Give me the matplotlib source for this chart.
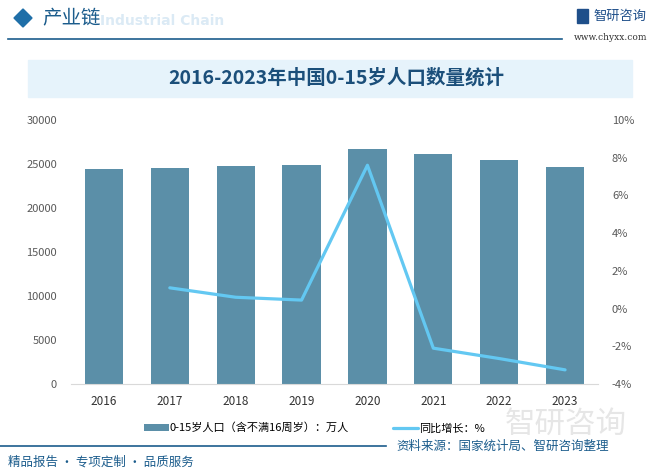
import matplotlib
matplotlib.use("Agg")
import matplotlib.pyplot as plt
from matplotlib.patches import Rectangle, Polygon
from matplotlib.lines import Line2D

plt.rcParams['font.family'] = ['Noto Sans CJK SC', 'DejaVu Sans']

years = ['2016', '2017', '2018', '2019', '2020', '2021', '2022', '2023']
population = [24380, 24600, 24720, 24830, 26740, 26170, 25480, 24670]  # 万人
growth_years = ['2017', '2018', '2019', '2020', '2021', '2022', '2023']
growth = [1.1, 0.6, 0.45, 7.6, -2.1, -2.65, -3.25]  # %

bar_color = '#5b8fa8'
line_color = '#63c8f2'
dark_blue = '#1b5c8c'

fig = plt.figure(figsize=(6.72, 4.76), dpi=100)

# header
fig.patches.append(Polygon([[14/672, 1-18/476], [23/672, 1-9/476], [32/672, 1-18/476], [23/672, 1-27/476]],
                           closed=True, transform=fig.transFigure, color='#1f6fa8'))
fig.text(100/672, 1-21/476, 'Industrial Chain', fontsize=10, color='#dbeaf5', weight='bold',
         va='center', ha='left', family='DejaVu Sans', zorder=0)
fig.text(42/672, 1-19/476, '产业链', fontsize=14, color=dark_blue, va='center', ha='left')
fig.lines.append(Line2D([8/672, 562/672], [1-39/476, 1-39/476], transform=fig.transFigure,
                        color=dark_blue, lw=1.2))
fig.patches.append(Rectangle((577/672, 1-23/476), 11/672, 14/476, transform=fig.transFigure,
                             color='#1f4f8a'))
fig.text(593/672, 1-16/476, '智研咨询', fontsize=9.5, color='#1f4f8a', va='center', ha='left')
fig.text(574/672, 1-38/476, 'www.chyxx.com', fontsize=6.5, color='#333333', va='center', ha='left',
         family='DejaVu Serif')

# title box
fig.patches.append(Rectangle((28/672, 1-97/476), 604/672, 37/476, transform=fig.transFigure,
                             color='#e6f3fb', zorder=0))
fig.text(0.5, 1-78/476, '2016-2023年中国0-15岁人口数量统计', fontsize=14, weight='bold',
         color='#1b4f7a', ha='center', va='center')

# faint watermark bottom right
fig.text(505/672, 1-424/476, '智研咨询', fontsize=22, color='#e6e6e6', ha='left', va='center',
         zorder=0)

ax = fig.add_axes([71/672, 1-384/476, 527/672, 264/476])
x = list(range(len(years)))
ax.bar(x, population, width=0.58, color=bar_color, zorder=2,
       label='0-15岁人口（含不满16周岁）：万人')
ax.set_ylim(0, 30000)
ax.set_yticks(range(0, 30001, 5000))
ax.set_xlim(-0.5, len(years) - 0.5)
ax.set_xticks(x)
ax.set_xticklabels(years)
ax.tick_params(axis='y', length=0, labelsize=8, colors='#595959', pad=10)
ax.tick_params(axis='x', length=0, labelsize=8.5, colors='#333333', pad=8)
for s in ['top', 'right', 'left']:
    ax.spines[s].set_visible(False)
ax.spines['bottom'].set_color('#d9d9d9')

ax2 = ax.twinx()
gx = [years.index(y) for y in growth_years]
ax2.plot(gx, growth, color=line_color, lw=2.3, zorder=3, solid_capstyle='round',
         label='同比增长：%')
ax2.set_ylim(-4, 10)
ax2.set_yticks(range(-4, 11, 2))
ax2.set_yticklabels([f'{v}%' for v in range(-4, 11, 2)])
ax2.tick_params(axis='y', length=0, labelsize=8, colors='#595959', pad=10)
for s in ['top', 'right', 'left', 'bottom']:
    ax2.spines[s].set_visible(False)

h1, l1 = ax.get_legend_handles_labels()
h2, l2 = ax2.get_legend_handles_labels()
fig.legend(h1 + h2, l1 + l2, loc='center', bbox_to_anchor=(0.468, 1-428/476), ncol=2,
           frameon=False, fontsize=8, handlelength=2.2, handleheight=0.5, columnspacing=4,
           handletextpad=0.1)

# footer
fig.lines.append(Line2D([0, 386/672], [1-446/476, 1-446/476], transform=fig.transFigure,
                        color=dark_blue, lw=1.2))
fig.text(396/672, 1-446/476, '资料来源：国家统计局、智研咨询整理', fontsize=9, color=dark_blue,
         ha='left', va='center')
fig.text(8/672, 1-462/476, '精品报告 · 专项定制 · 品质服务', fontsize=9, color=dark_blue,
         ha='left', va='center')

fig.savefig('out.png', dpi=100)
